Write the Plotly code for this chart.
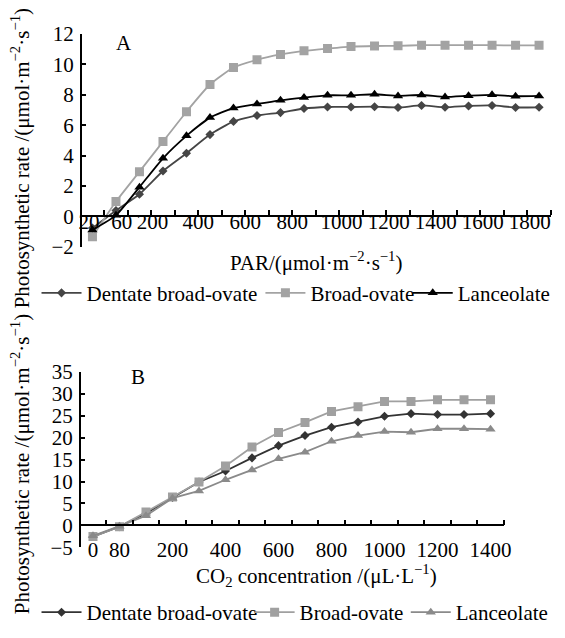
import plotly.graph_objects as go

# ---------------- Data ----------------
# Panel A: light response (PAR), 20 measurement points
par_labels = ["20", "60", "200", "400", "600", "800", "1000", "1200", "1400", "1600", "1800"]
par_label_pos = [-0.15, 1.25, 2.55, 4.5, 6.5, 8.5, 10.6, 12.6, 14.6, 16.6, 18.6]
par_index = list(range(20))

a_dentate = [-0.78, 0.38, 1.45, 2.98, 4.15, 5.38, 6.25, 6.64, 6.83, 7.1,
             7.2, 7.2, 7.22, 7.17, 7.3, 7.18, 7.27, 7.3, 7.17, 7.18]
a_broad = [-1.35, 0.97, 2.94, 4.92, 6.89, 8.68, 9.8, 10.31, 10.66, 10.9,
           11.05, 11.18, 11.22, 11.23, 11.27, 11.27, 11.27, 11.27, 11.26, 11.26]
a_lanceolate = [-0.9, 0.06, 1.92, 3.82, 5.3, 6.5, 7.13, 7.4, 7.64, 7.82,
                7.97, 7.97, 8.04, 7.93, 7.99, 7.86, 7.94, 8.0, 7.91, 7.93]

# Panel B: CO2 response, 16 measurement points
co2_labels = ["0", "80", "200", "400", "600", "800", "1000", "1200", "1400"]
co2_label_pos = [0, 1, 3, 5, 7, 9, 11, 13, 15]
co2_index = list(range(16))

b_dentate = [-2.56, -0.3, 2.75, 6.35, 9.9, 12.4, 15.4, 18.2, 20.5, 22.4,
             23.6, 24.9, 25.5, 25.3, 25.3, 25.5]
b_broad = [-2.56, -0.3, 3.05, 6.45, 9.9, 13.55, 17.9, 21.2, 23.5, 26.0,
           27.1, 28.3, 28.3, 28.65, 28.65, 28.65]
b_lanceolate = [-2.4, -0.2, 2.2, 6.2, 7.85, 10.4, 12.65, 15.2, 16.7, 19.2,
                20.5, 21.4, 21.25, 22.05, 22.05, 21.95]

series_names = ["Dentate broad-ovate", "Broad-ovate", "Lanceolate"]

# ---------------- Figure ----------------
# The page body has an 8 px default margin, so the figure is drawn 8 px in
# from the window's top-left corner; positions below are window pixels.
OFF = 8
W, H = 565 - OFF, 638 - OFF
FONT = "Liberation Serif"
FS = 21
ITEMW = 40


def px_x(x):
    return (x - OFF) / W


def px_y(y):
    return 1 - (y - OFF) / H


fig = go.Figure()

styleA = [
    dict(color="#454545", symbol="diamond", size=7),
    dict(color="#a3a3a3", symbol="square", size=9),
    dict(color="#000000", symbol="triangle-up", size=9),
]
legendsA = ["legend", "legend2", "legend3"]
for name, ys, st, lg in zip(series_names, [a_dentate, a_broad, a_lanceolate], styleA, legendsA):
    fig.add_trace(go.Scatter(
        x=par_index, y=ys, name=name, mode="lines+markers",
        line=dict(color=st["color"], width=1.8, shape="spline", smoothing=0.5),
        marker=dict(color=st["color"], symbol=st["symbol"], size=st["size"]),
        xaxis="x", yaxis="y", legend=lg,
    ))

styleB = [
    dict(color="#333333", symbol="diamond", size=7),
    dict(color="#a0a0a0", symbol="square", size=9),
    dict(color="#8a8a8a", symbol="triangle-up", size=9),
]
legendsB = ["legend4", "legend5", "legend6"]
for name, ys, st, lg in zip(series_names, [b_dentate, b_broad, b_lanceolate], styleB, legendsB):
    fig.add_trace(go.Scatter(
        x=co2_index, y=ys, name=name, mode="lines+markers",
        line=dict(color=st["color"], width=1.8),
        marker=dict(color=st["color"], symbol=st["symbol"], size=st["size"]),
        xaxis="x2", yaxis="y2", legend=lg,
    ))

tickfont = dict(family=FONT, size=FS, color="black")

common_x = dict(
    showline=True, linecolor="black", linewidth=1.5, showgrid=False, zeroline=False,
    ticks="", tickfont=tickfont, anchor="free", tickmode="array",
)
common_y = dict(
    showline=True, linecolor="black", linewidth=1.5, showgrid=False, zeroline=False,
    ticks="inside", ticklen=5, tickwidth=1.5, tickcolor="black", tickfont=tickfont,
    anchor="free", ticklabelstandoff=2,
)


def legend_at(text_start_px, y_px):
    return dict(
        orientation="h", x=px_x(text_start_px - ITEMW - 13), y=px_y(y_px),
        xanchor="left", yanchor="middle", itemwidth=ITEMW,
        font=dict(family=FONT, size=FS, color="black"), bgcolor="rgba(0,0,0,0)",
        itemclick=False,
    )


fig.update_layout(
    width=W, height=H,
    margin=dict(l=0, r=0, t=0, b=0),
    paper_bgcolor="white", plot_bgcolor="rgba(0,0,0,0)",
    font=dict(family=FONT, size=FS, color="black"),
    xaxis=dict(
        **common_x,
        domain=[px_x(80), px_x(558.7)], range=[-0.5, 19.5],
        position=px_y(212), ticklabelstandoff=-13,
        tickvals=par_label_pos, ticktext=par_labels,
        minor=dict(tickvals=[i - 0.5 for i in range(21)], ticks="inside",
                   ticklen=5, tickwidth=1.5, tickcolor="black", showgrid=False),
    ),
    yaxis=dict(
        **common_y,
        domain=[px_y(243.6), px_y(22.7)], range=[-2, 12], dtick=2, tick0=0,
        position=px_x(80),
    ),
    xaxis2=dict(
        **common_x,
        domain=[px_x(79), px_x(510.8)], range=[-0.5, 15.5],
        position=px_y(533.3), ticklabelstandoff=6,
        tickvals=co2_label_pos, ticktext=co2_labels,
        minor=dict(tickvals=[i - 0.5 for i in range(17)], ticks="inside",
                   ticklen=5, tickwidth=1.5, tickcolor="black", showgrid=False),
    ),
    yaxis2=dict(
        **common_y,
        domain=[px_y(556.1), px_y(374)], range=[-5, 35], dtick=5, tick0=0,
        position=px_x(79),
    ),
    legend=legend_at(88, 292),
    legend2=legend_at(316, 292),
    legend3=legend_at(466, 292),
    legend4=legend_at(88, 624),
    legend5=legend_at(305, 624),
    legend6=legend_at(464, 624),
    showlegend=True,
)

ytitle = "Photosynthetic rate /(μmol·m<sup>−2</sup>·s<sup>−1</sup>)"
annotations = [
    dict(text="A", x=px_x(124), y=px_y(32)),
    dict(text="B", x=px_x(138), y=px_y(379)),
    dict(text="PAR/(μmol·m<sup>−2</sup>·s<sup>−1</sup>)", x=px_x(320), y=px_y(259)),
    dict(text="CO<sub>2</sub> concentration /(μL·L<sup>−1</sup>)", x=px_x(320), y=px_y(586)),
    dict(text=ytitle, x=px_x(19), y=px_y(152), textangle=-90),
    dict(text=ytitle, x=px_x(19), y=px_y(470), textangle=-90),
]
for a in annotations:
    fig.add_annotation(
        xref="paper", yref="paper", showarrow=False,
        xanchor="center", yanchor="middle",
        font=dict(family=FONT, size=FS, color="black"), **a,
    )

fig.write_html("out.html")
